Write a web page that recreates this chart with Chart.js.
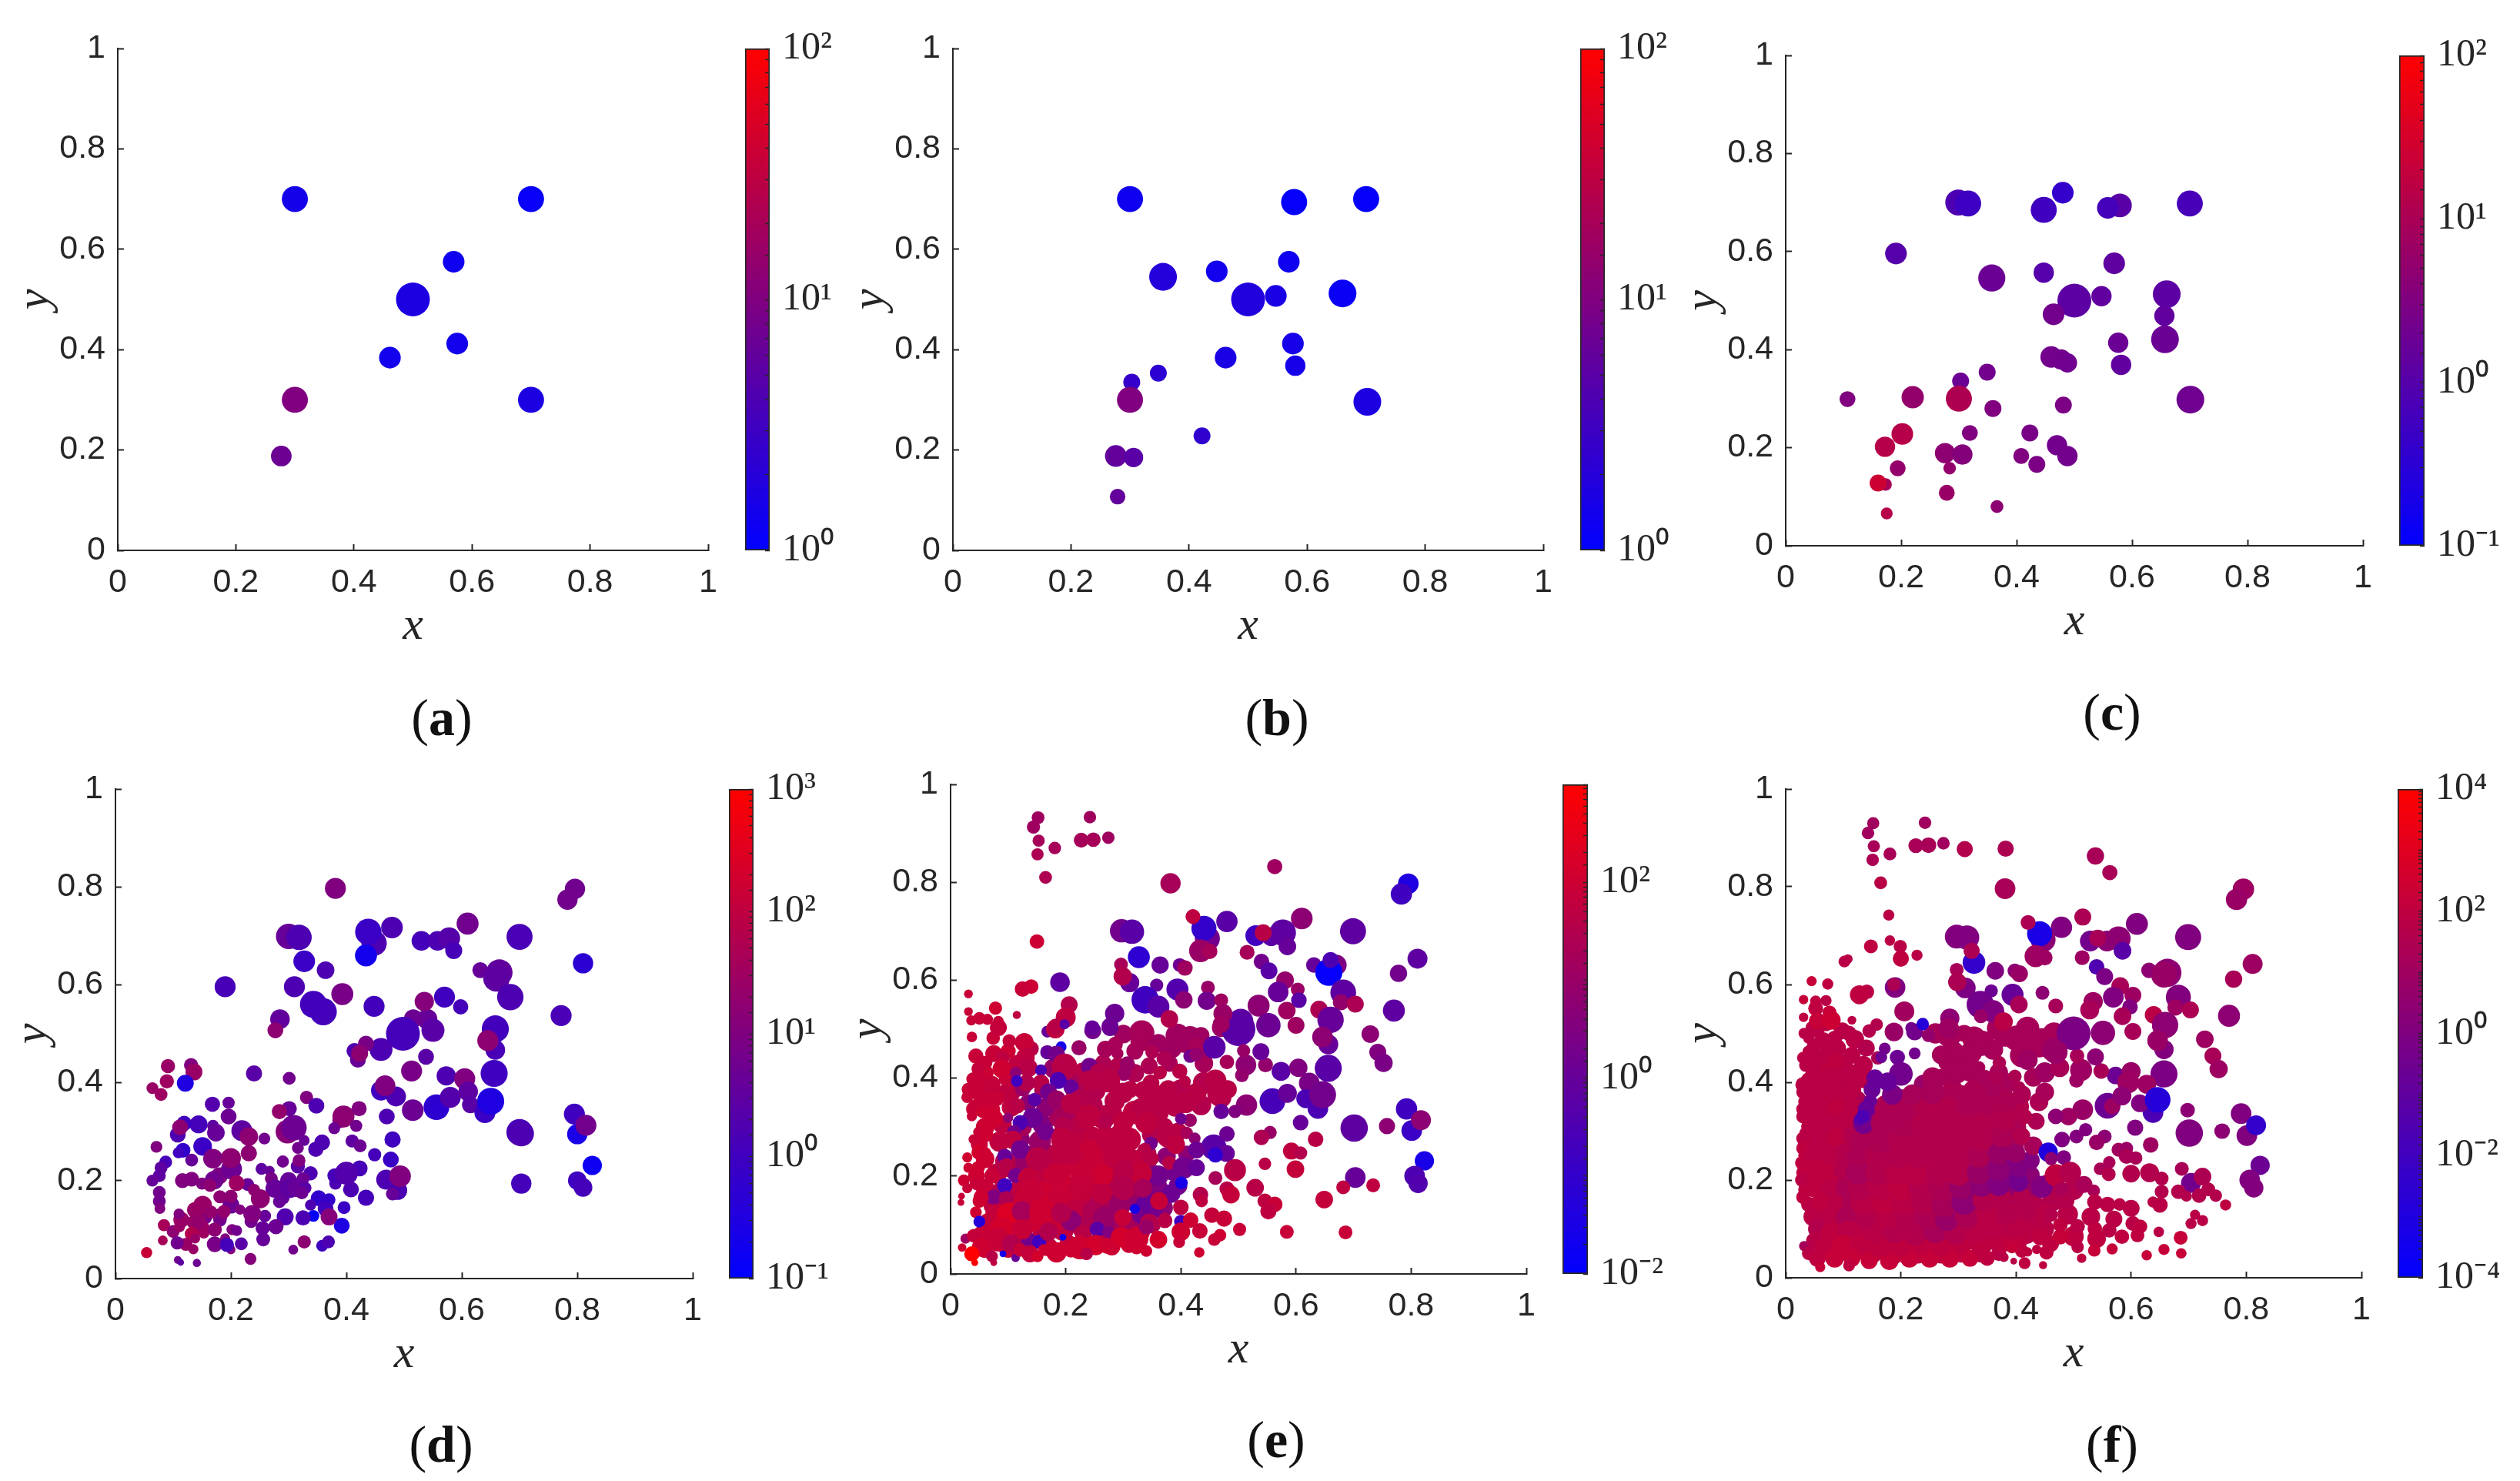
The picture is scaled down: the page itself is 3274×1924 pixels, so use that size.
<!DOCTYPE html>
<html>
<head>
<meta charset="utf-8">
<title>Scatter panels</title>
<script src="https://cdn.jsdelivr.net/npm/chart.js@4/dist/chart.umd.min.js"></script>
<style>
    html, body { margin: 0; background: #FFFFFF; }
    #page { position: relative; width: 3274px; height: 1924px; overflow: hidden; }
    canvas { position: absolute; }
    .caption {
        position: absolute; transform: translate(-50%, -50%);
        font-family: "Liberation Serif", serif; font-size: 68px; color: #111111;
    }
</style>
</head>
<body>
<div id="page"></div>
<script>
// every point is [x, y, weight, value]; weight 1 is the biggest dot, value is read on the colour bar
const pointsA = [
    [.30,.70,.77,1.45],[.70,.70,.77,1.15],[.569,.575,.64,1.3],[.50,.50,1,1.7],[.575,.412,.64,1.4],
    [.461,.384,.64,1.4],[.30,.30,.77,10],[.70,.30,.77,1.7],[.277,.188,.61,7]
];
const pointsB = [
    [.30,.70,.77,1.3],[.578,.694,.77,1.1],[.70,.70,.77,1.1],[.569,.575,.64,1.3],[.447,.556,.64,1.4],
    [.356,.545,.82,1.9],[.50,.50,1,1.8],[.547,.507,.64,1.6],[.66,.512,.82,1.2],[.576,.412,.64,1.5],
    [.58,.368,.6,1.5],[.462,.384,.64,1.6],[.348,.353,.5,2.2],[.303,.335,.5,2.6],[.30,.30,.77,10],
    [.702,.296,.82,1.7],[.422,.228,.5,2.4],[.276,.188,.64,6],[.306,.185,.57,5],[.279,.107,.46,6]
];
const pointsC = [
    [.299,.70,.77,.8],[.316,.698,.77,.52],[.48,.72,.64,.4],[.447,.685,.77,.56],[.579,.694,.7,1.1],
    [.558,.689,.64,.65],[.70,.698,.77,.69],[.191,.596,.64,1],[.569,.576,.64,1.3],[.447,.557,.6,1],
    [.357,.546,.8,1.8],[.50,.50,1,1.2],[.547,.509,.6,1.4],[.66,.513,.82,1.2],[.656,.469,.6,1.4],
    [.464,.472,.64,2.2],[.657,.421,.82,1.8],[.576,.414,.6,1.8],[.581,.369,.6,1.4],[.46,.385,.64,2.2],
    [.477,.38,.6,2.2],[.488,.373,.57,2],[.349,.354,.5,2.2],[.303,.336,.5,1.8],[.107,.299,.47,3.2],
    [.22,.303,.66,5.5],[.30,.30,.77,11],[.701,.298,.82,2],[.359,.28,.5,3.2],[.481,.287,.5,2.8],
    [.202,.228,.64,14],[.172,.202,.6,14],[.319,.23,.47,3.2],[.423,.23,.5,2.6],[.47,.205,.6,2.2],
    [.276,.189,.6,4.5],[.306,.186,.6,3.6],[.408,.183,.47,3.2],[.488,.183,.6,2.2],[.435,.166,.5,2.8],
    [.194,.158,.47,5.5],[.284,.158,.37,5.5],[.173,.125,.37,9],[.16,.128,.5,25],[.279,.108,.47,6.3],
    [.175,.066,.35,14],[.366,.08,.38,4.5]
];
const pointsD = [
    [.381,.797,.62,10],[.796,.796,.6,6],[.783,.774,.6,6.3],[.61,.725,.65,6],[.479,.717,.64,1.6],
    [.448,.685,.75,1.6],[.438,.708,.78,.8],[.434,.66,.65,.2],[.30,.699,.75,4],[.318,.697,.75,1.6],
    [.53,.69,.58,1.2],[.558,.69,.58,1.6],[.578,.695,.65,2.2],[.586,.67,.5,1.3],[.70,.698,.77,1.4],
    [.81,.644,.6,.5],[.327,.648,.64,.8],[.364,.63,.52,1.6],[.632,.63,.47,4],[.665,.625,.78,3.5],
    [.66,.613,.78,3],[.684,.575,.78,1.6],[.19,.596,.62,1.3],[.31,.596,.62,1.6],[.393,.581,.65,8],
    [.448,.556,.62,1.1],[.36,.545,.8,1.2],[.343,.56,.8,1.1],[.57,.575,.62,1],[.54,.53,.6,4],
    [.535,.566,.57,12],[.598,.555,.45,1.2],[.772,.537,.62,1.4],[.285,.53,.58,3.5],[.277,.507,.47,16],
    [.516,.531,.55,5],[.55,.507,.68,2.5],[.658,.51,.8,1.1],[.658,.467,.58,1.4],[.645,.486,.62,16],
    [.498,.5,1,1.2],[.414,.465,.47,1.8],[.42,.447,.47,4],[.46,.468,.68,1.6],[.434,.48,.47,8],
    [.423,.46,.5,16],[.538,.453,.47,2.5],[.513,.424,.62,8],[.656,.419,.8,1],[.573,.414,.57,1.6],
    [.605,.408,.62,10],[.24,.419,.48,2.5],[.301,.409,.38,6],[.091,.434,.42,25],[.131,.436,.42,10],
    [.136,.422,.5,25],[.089,.403,.42,30],[.121,.399,.5,.3],[.064,.389,.35,25],[.079,.376,.38,30],
    [.168,.356,.45,2],[.196,.359,.36,4],[.331,.37,.39,10],[.348,.353,.47,1.6],[.196,.331,.47,5],
    [.301,.347,.45,4],[.284,.341,.45,20],[.298,.3,.7,13],[.309,.308,.76,5.2],[.389,.323,.45,6],
    [.395,.331,.65,16],[.422,.347,.45,10],[.417,.312,.36,6],[.379,.307,.35,5],[.47,.331,.47,1.6],
    [.515,.344,.64,5],[.46,.384,.59,1],[.486,.372,.59,1.6],[.467,.394,.61,10],[.556,.35,.76,.5],
    [.58,.37,.62,2],[.611,.382,.58,3],[.615,.355,.5,2.5],[.64,.339,.62,.8],[.65,.362,.8,.3],
    [.795,.336,.62,1],[.80,.295,.6,.25],[.815,.313,.62,6.3],[.70,.299,.78,1.4],[.703,.296,.75,1.6],
    [.826,.231,.57,.16],[.80,.2,.55,1],[.81,.186,.55,1.2],[.703,.194,.6,1.2],
    [.181,.12,.4,5],[.2,.15,.5,5],[.29,.165,.4,4],[.3,.2,.5,4],[.155,.125,.42,6],[.135,.115,.4,25],[.15,.105,.42,30],[.18,.21,.5,10],
    [.144,.315,.53,1.2],[.119,.317,.45,1],[.108,.294,.47,1.6],[.112,.309,.47,16],[.169,.312,.35,3],
    [.174,.298,.52,4],[.219,.302,.62,3],[.231,.29,.55,16],[.258,.286,.35,6],[.071,.269,.35,10],
    [.151,.27,.55,.8],[.117,.262,.44,.6],[.109,.257,.33,1],[.132,.242,.38,4],[.169,.245,.58,10],
    [.201,.224,.62,5],[.2,.246,.59,16],[.231,.256,.48,16],[.087,.238,.38,1.3],[.079,.226,.38,3],
    [.076,.21,.38,3],[.064,.2,.35,4],[.116,.2,.44,10],[.132,.203,.44,10],[.171,.201,.55,6],
    [.15,.194,.36,10],[.164,.19,.38,16],[.229,.192,.38,4],[.21,.195,.47,30],[.253,.224,.35,3],
    [.267,.22,.3,4],[.27,.204,.38,8],[.29,.239,.36,6],[.316,.229,.42,2.5],[.318,.241,.38,10],
    [.338,.215,.42,1.6],[.325,.204,.38,5],[.276,.184,.55,4],[.302,.184,.56,3],[.315,.186,.56,4],
    [.329,.185,.36,2.5],[.323,.175,.38,5],[.284,.157,.38,4],[.24,.181,.36,16],[.251,.163,.56,16],
    [.181,.167,.39,16],[.2,.168,.39,16],[.352,.164,.47,.6],[.37,.161,.38,.6],[.338,.15,.33,1.6],
    [.364,.143,.47,1],[.396,.145,.38,.8],[.434,.165,.48,1.2],[.408,.182,.47,1.6],[.381,.194,.36,1.6],
    [.38,.21,.44,1.3],[.423,.225,.47,1.3],[.4,.215,.68,2],[.41,.281,.39,3],[.424,.271,.38,5],
    [.347,.264,.45,1.6],[.358,.278,.47,1.6],[.327,.282,.32,4],[.316,.267,.35,6],[.48,.284,.48,1],
    [.449,.253,.39,1.2],[.477,.243,.47,.8],[.469,.202,.59,1.6],[.489,.18,.56,1.6],[.48,.173,.39,4],
    [.493,.209,.64,10],[.392,.108,.47,.3],[.37,.126,.5,12],[.343,.128,.35,.13],[.294,.126,.5,1.8],
    [.325,.124,.45,1.6],[.278,.106,.45,5],[.255,.103,.42,4],[.259,.128,.36,4],[.235,.117,.39,6],
    [.237,.132,.53,10],[.216,.141,.3,10],[.181,.128,.45,8],[.188,.137,.39,20],[.151,.15,.55,25],
    [.138,.14,.48,25],[.165,.136,.39,20],[.114,.12,.47,25],[.11,.132,.32,10],[.145,.116,.47,20],
    [.084,.109,.36,40],[.1,.096,.38,16],[.111,.106,.33,25],[.153,.093,.33,30],[.172,.1,.42,16],
    [.132,.091,.41,63],[.202,.1,.33,10],[.21,.098,.32,6],[.082,.078,.29,40],[.122,.07,.39,25],
    [.107,.073,.39,6],[.138,.082,.3,25],[.135,.06,.3,25],[.172,.07,.47,8],[.19,.082,.3,10],
    [.2,.059,.27,10],[.193,.069,.42,1.2],[.218,.071,.38,2.5],[.256,.08,.41,4],[.327,.075,.39,16],
    [.308,.059,.29,6],[.358,.067,.35,1],[.369,.075,.38,1.6],[.054,.053,.33,130],[.108,.038,.23,6],
    [.113,.033,.2,3],[.141,.032,.24,5],[.234,.04,.35,12],[.076,.176,.38,6],[.076,.158,.38,6],
    [.077,.143,.32,10]
];
const fillE = [
    [.06,.05,.5,80],[.1,.052,.55,80],[.135,.05,.55,56],[.17,.055,.55,80],[.205,.06,.55,80],[.24,.062,.55,80],[.28,.055,.5,100],[.31,.06,.5,100],
    [.055,.08,.55,100],[.09,.075,.6,100],[.125,.08,.6,100],[.16,.085,.6,56],[.195,.09,.65,56],[.23,.095,.65,32],[.265,.085,.6,32],[.3,.095,.6,56],[.33,.085,.55,80],
    [.065,.105,.55,80],[.105,.105,.65,130],[.14,.11,.7,100],[.175,.105,.7,80],[.21,.115,.7,40],[.245,.11,.7,25],[.28,.11,.65,18],[.315,.105,.6,18],[.35,.1,.5,32],
    [.075,.14,.6,56],[.11,.145,.7,100],[.15,.145,.75,100],[.19,.14,.7,80],[.225,.145,.7,56],[.26,.14,.7,25],[.295,.145,.7,10],[.33,.15,.65,5.6],[.37,.135,.55,5.6],
    [.06,.175,.55,80],[.09,.17,.6,32],[.125,.175,.7,56],[.16,.18,.75,100],[.2,.175,.75,100],[.24,.18,.75,56],[.28,.185,.7,32],[.32,.175,.65,10],[.36,.175,.6,3.2],[.395,.18,.55,1.8],
    [.045,.2,.5,100],[.08,.205,.6,56],[.115,.21,.65,10],[.15,.21,.7,56],[.19,.215,.75,80],[.23,.22,.75,80],[.27,.22,.75,56],[.31,.21,.7,32],[.345,.205,.65,5.6],[.385,.21,.55,1.8],
    [.06,.235,.55,100],[.095,.23,.6,32],[.13,.24,.65,10],[.17,.24,.7,40],[.21,.25,.75,56],[.255,.245,.75,80],[.3,.25,.7,56],[.34,.245,.6,32],[.375,.24,.55,5.6],[.41,.245,.5,5.6],
    [.05,.265,.5,100],[.085,.27,.6,56],[.12,.275,.6,5.6],[.155,.27,.65,10],[.195,.28,.7,32],[.23,.285,.7,56],[.27,.275,.75,56],[.31,.275,.7,56],[.35,.285,.6,32],[.395,.29,.55,40],
    [.06,.3,.55,100],[.09,.305,.55,56],[.125,.3,.55,18],[.16,.305,.6,3.2],[.19,.32,.65,18],[.225,.31,.7,40],[.265,.32,.7,56],[.32,.33,.7,56],[.36,.33,.65,40],[.39,.34,.55,40],
    [.045,.34,.5,100],[.07,.335,.55,100],[.105,.34,.55,56],[.135,.35,.5,5.6],[.165,.34,.55,5.6],[.2,.33,.55,18],[.245,.345,.65,32],[.28,.33,.6,40],[.33,.34,.55,40],[.375,.35,.6,40],[.435,.345,.6,32],[.47,.36,.6,32],
    [.05,.37,.5,100],[.075,.37,.55,80],[.105,.37,.55,32],[.125,.38,.5,10],[.16,.375,.5,18],[.215,.38,.6,18],[.25,.375,.65,32],[.3,.37,.6,40],[.335,.375,.55,40],[.36,.365,.6,40],[.4,.375,.65,32],[.44,.39,.65,32],
    [.06,.41,.5,100],[.1,.4,.55,80],[.115,.43,.5,56],[.18,.42,.6,10],[.21,.405,.6,18],[.265,.43,.5,25],[.32,.41,.55,25],[.345,.425,.5,25],[.38,.43,.5,18],[.44,.43,.55,18],[.445,.46,.6,13],[.385,.46,.55,13],[.33,.475,.6,18],[.3,.49,.55,13],[.1,.455,.45,100],[.14,.46,.45,40]
];
const cloudE = [
    [.037,.484,.31,80],[.074,.482,.4,80],[.083,.503,.5,70],[.102,.476,.4,70],[.128,.473,.55,80],
    [.168,.495,.35,1],[.182,.5,.55,56],[.192,.464,.32,.025],[.223,.462,.45,10],[.168,.453,.42,1],
    [.184,.449,.5,1.8],[.269,.459,.5,18],[.286,.469,.45,18],[.29,.45,.35,18],[.247,.497,.5,1.8],
    [.277,.503,.5,1],[.332,.492,.75,18],[.361,.471,.55,13],[.32,.455,.5,18],[.35,.453,.4,25],
    [.371,.44,.45,25],[.394,.487,.7,13],[.416,.484,.65,13],[.435,.487,.5,13],[.405,.469,.5,13],
    [.427,.463,.55,18],[.416,.445,.4,1.8],[.427,.448,.4,8],[.47,.503,.55,10],
    [.044,.445,.45,80],[.075,.45,.5,80],[.091,.442,.4,56],[.061,.432,.4,80],[.048,.419,.4,70],
    [.089,.419,.55,110],[.13,.442,.55,56],[.135,.421,.55,40],[.157,.416,.35,.32],[.113,.411,.35,5.6],
    [.198,.424,.75,40],[.228,.416,.45,40],[.241,.424,.5,1.8],[.258,.411,.55,32],[.29,.424,.5,32],
    [.307,.429,.45,10],[.301,.408,.4,10],[.364,.411,.4,40],[.398,.414,.45,40],[.407,.393,.35,40],
    [.274,.395,.7,40],[.241,.395,.6,40],[.209,.382,.45,1],[.187,.395,.5,.32],[.157,.39,.5,40],
    [.132,.39,.5,32],[.115,.394,.35,.18],[.039,.398,.4,80],[.053,.385,.6,80],[.072,.387,.5,70],
    [.097,.369,.55,56],[.031,.377,.4,80],[.029,.361,.35,80],[.056,.358,.55,80],[.08,.358,.45,80],
    [.146,.356,.4,.56],[.17,.372,.5,1.8],[.184,.356,.55,10],[.312,.377,.5,40],[.348,.39,.5,40],
    [.378,.377,.55,40],[.427,.369,.6,40],[.481,.377,.55,40],[.46,.395,.65,40],[.465,.366,.65,40],
    [.408,.351,.65,40],[.345,.353,.6,40],[.285,.353,.6,40],[.225,.358,.55,32],[.209,.348,.6,40],
    [.116,.343,.45,40],[.04,.337,.45,80],[.056,.332,.4,110],[.1,.319,.3,5.6],[.075,.317,.55,110],
    [.143,.319,.6,1.3],[.121,.309,.45,.32],[.037,.322,.3,80],[.239,.322,.7,56],[.195,.303,.5,32],
    [.3,.311,.6,56],[.34,.309,.65,56],[.372,.301,.5,40],[.416,.314,.4,10],[.4,.317,.35,1.8],
    [.269,.311,.45,32],[.165,.29,.5,1.8],[.11,.29,.4,1.8],[.048,.29,.3,80],[.061,.285,.45,110],
    [.04,.275,.3,80],[.108,.274,.55,56],[.195,.274,.7,56],[.247,.28,.6,56],[.296,.288,.6,56],
    [.348,.267,.4,1.8],[.378,.28,.65,40],[.41,.288,.37,18],[.424,.277,.35,5.6],[.457,.259,.75,.56],
    [.479,.246,.5,1],[.46,.243,.45,.08],[.427,.253,.5,1.3],[.337,.254,.4,40],[.391,.264,.55,56],
    [.048,.248,.4,140],[.059,.246,.4,110],[.029,.238,.3,110],[.094,.24,.45,1],[.121,.254,.55,1.8],
    [.151,.235,.7,40],[.192,.243,.6,56],[.241,.254,.6,80],[.285,.243,.7,56],[.318,.233,.6,56],
    [.35,.235,.4,40],[.38,.227,.42,40],[.405,.217,.65,1.8],[.427,.217,.5,1],[.361,.201,.6,1.8],
    [.329,.206,.7,70],[.301,.212,.6,40],[.263,.201,.65,110],[.23,.196,.75,80],[.181,.201,.7,80],
    [.097,.217,.55,40],[.048,.217,.4,110],[.031,.217,.3,110],[.072,.201,.45,80],[.113,.201,.45,1.8],
    [.135,.196,.6,70],[.023,.191,.35,110],[.045,.185,.4,80],[.094,.18,.45,.18],[.075,.157,.45,3.2],
    [.053,.157,.45,110],[.029,.175,.3,80],[.019,.159,.2,80],[.018,.146,.2,80],[.097,.154,.45,25],
    [.138,.164,.8,80],[.187,.154,.65,80],[.225,.175,.7,70],[.263,.164,.6,56],[.301,.175,.7,32],
    [.34,.143,.6,1],[.334,.175,.55,18],[.383,.164,.55,1.3],[.05,.149,.4,110],[.044,.126,.35,110],
    [.05,.107,.35,.056],[.078,.122,.6,70],[.102,.12,.75,200],[.124,.128,.6,18],[.16,.128,.8,110],
    [.209,.109,.6,5.6],[.192,.125,.6,32],[.247,.128,.6,25],[.269,.112,.75,10],[.299,.115,.5,80],
    [.329,.118,.45,1.8],[.356,.128,.4,1.8],[.32,.133,.3,.03],[.372,.109,.45,40],[.4,.107,.4,.18],
    [.345,.104,.55,32],[.061,.086,.4,80],[.026,.072,.3,13],[.04,.078,.4,70],[.089,.091,.7,140],
    [.135,.07,.45,1.8],[.154,.066,.42,.18],[.124,.091,.6,80],[.17,.086,.55,32],[.195,.075,.2,.018],
    [.23,.083,.5,40],[.255,.091,.45,.56],[.274,.086,.35,3.2],[.296,.075,.6,140],[.323,.072,.7,110],
    [.34,.096,.45,10],[.225,.054,.7,110],[.252,.059,.6,140],[.271,.057,.45,110],[.236,.041,.38,40],
    [.323,.054,.4,110],[.083,.07,.7,80],[.053,.054,.55,110],[.037,.041,.45,1000],[.02,.054,.25,110],
    [.042,.023,.2,800],[.075,.023,.2,56],[.072,.036,.35,40],[.105,.062,.55,32],[.091,.041,.2,.025],
    [.113,.033,.25,1],[.121,.049,.4,80],[.138,.041,.5,70],[.151,.036,.35,140],[.184,.044,.6,110],
    [.162,.049,.35,110],[.209,.049,.45,110]
];
const sparseE = [
    [.152,.932,.38,13],[.144,.913,.39,13],[.242,.933,.37,13],[.153,.885,.36,18],[.181,.87,.37,18],
    [.227,.886,.44,18],[.248,.887,.43,18],[.274,.891,.37,13],[.151,.857,.36,25],[.165,.81,.38,25],
    [.563,.832,.45,13],[.382,.798,.6,18],[.795,.797,.61,.04],[.783,.776,.63,.18],[.61,.726,.64,5.6],
    [.446,.685,.74,1.8],[.44,.706,.74,.1],[.421,.73,.44,56],[.48,.72,.63,.56],[.434,.66,.67,10],
    [.45,.659,.46,18],[.15,.679,.43,100],[.297,.701,.69,1.8],[.315,.699,.72,.56],[.53,.691,.61,.18],
    [.557,.689,.56,.56],[.577,.697,.78,.7],[.543,.697,.5,40],[.585,.669,.52,1],[.699,.7,.77,.7],
    [.515,.657,.44,18],[.327,.647,.65,.08],[.364,.631,.51,1],[.398,.631,.41,1.3],[.407,.625,.46,13],
    [.311,.595,.57,1],[.296,.632,.41,18],[.299,.608,.54,32],[.54,.638,.46,1.8],[.553,.619,.5,.56],
    [.631,.631,.46,1],[.67,.631,.61,3],[.657,.616,.8,.012],[.66,.641,.48,.32],[.811,.644,.59,.7],
    [.778,.614,.51,1.8],[.19,.596,.58,.7],[.14,.587,.43,100],[.125,.582,.46,80],[.358,.59,.39,1],
    [.394,.581,.65,.4],[.405,.56,.52,5.6],[.447,.585,.41,10],[.581,.6,.52,8],[.603,.581,.41,10],
    [.569,.576,.61,1],[.338,.56,.81,.18],[.361,.546,.65,.56],[.445,.558,.54,1.8],[.47,.559,.41,13],
    [.682,.575,.76,.7],[.678,.555,.48,8],[.703,.551,.5,25],[.584,.538,.52,13],[.605,.559,.46,.56],
    [.64,.54,.52,25],[.77,.538,.65,.7],[.535,.548,.65,5.6],[.66,.519,.78,1],[.206,.55,.5,32],
    [.2,.524,.59,56],[.183,.505,.48,40],[.198,.51,.3,.56],[.078,.543,.39,110],[.031,.572,.26,80],
    [.031,.536,.26,80],[.115,.529,.24,56],[.05,.522,.37,80],[.036,.518,.3,80],[.064,.52,.33,80],
    [.083,.516,.32,70],[.285,.532,.57,1.3],[.277,.506,.5,1.3],[.246,.503,.44,1],[.38,.521,.52,32],
    [.504,.516,.74,.7],[.5,.5,1,.56],[.473,.532,.56,10],[.47,.51,.5,13],[.552,.508,.72,1.3],
    [.6,.508,.5,13],[.729,.49,.52,5.6],[.742,.453,.5,3.2],[.752,.431,.54,2.5],[.656,.42,.8,.56],
    [.574,.414,.56,.56],[.604,.421,.54,3.2],[.623,.39,.61,2.5],[.547,.427,.44,8],[.513,.427,.61,5.6],
    [.506,.406,.41,8],[.509,.456,.39,10],[.539,.454,.5,1],[.48,.433,.43,18],[.656,.469,.59,1],
    [.646,.484,.61,5.6],[.458,.463,.67,.56],[.559,.353,.76,.25],[.585,.369,.56,1],[.617,.358,.56,.3],
    [.638,.338,.61,.3],[.646,.366,.8,1.8],[.514,.345,.63,5.6],[.47,.332,.46,1],[.494,.332,.39,3.2],
    [.608,.309,.46,1],[.48,.286,.46,1.3],[.701,.298,.81,.7],[.758,.302,.48,5.6],[.792,.337,.63,.18],
    [.801,.293,.61,.14],[.817,.314,.59,5.6],[.634,.275,.46,40],[.555,.289,.39,10],[.54,.279,.46,25],
    [.592,.251,.5,56],[.608,.247,.39,32],[.823,.231,.57,.03],[.546,.225,.37,40],[.599,.214,.52,70],
    [.703,.197,.61,1],[.806,.2,.61,.32],[.812,.185,.57,.4],[.682,.177,.41,56],[.734,.181,.41,56],
    [.529,.176,.52,40],[.494,.212,.65,40],[.48,.174,.44,40],[.487,.162,.52,70],[.46,.196,.41,18],
    [.649,.152,.52,70],[.546,.149,.44,56],[.563,.142,.46,80],[.552,.128,.48,56],[.434,.162,.46,32],
    [.436,.149,.37,56],[.401,.186,.37,.03],[.4,.136,.46,56],[.362,.149,.52,80],[.454,.12,.46,70],
    [.475,.113,.48,80],[.417,.11,.46,110],[.502,.091,.39,80],[.433,.088,.46,80],[.468,.079,.37,110],
    [.458,.07,.37,80],[.584,.086,.41,80],[.686,.085,.41,80],[.432,.044,.31,110],[.4,.086,.55,110],
    [.397,.065,.35,80],[.361,.07,.52,140],[.34,.047,.35,110]
];
const fillF = [
    [.032,.5,.33,63],[.055,.505,.42,63],[.085,.49,.45,63],[.11,.5,.45,40],[.05,.475,.45,63],[.075,.46,.5,63],[.1,.44,.5,63],[.03,.45,.35,63],
    [.047,.44,.45,63],[.068,.425,.5,100],[.095,.41,.55,63],[.12,.4,.5,40],[.04,.405,.45,63],[.03,.38,.4,63],[.07,.395,.5,63],[.045,.365,.5,63],
    [.075,.365,.55,100],[.1,.365,.55,63],[.125,.365,.5,25],[.03,.345,.4,63],[.05,.335,.5,63],[.075,.335,.55,63],[.1,.33,.55,63],[.12,.325,.5,40],
    [.04,.31,.45,63],[.065,.305,.55,63],[.095,.3,.55,100],[.12,.3,.5,25],[.03,.285,.4,63],[.05,.275,.5,100],[.075,.27,.55,63],[.1,.265,.55,40],
    [.125,.27,.55,25],[.035,.25,.45,100],[.06,.24,.55,100],[.09,.235,.55,63],[.115,.235,.55,16],[.03,.215,.4,100],[.06,.205,.55,100],[.09,.2,.55,63],
    [.115,.205,.55,6.3],[.035,.18,.45,100],[.065,.17,.55,100],[.095,.165,.55,40],[.12,.175,.5,2.5],[.04,.15,.45,63],[.075,.14,.55,63],[.1,.135,.55,16],
    [.125,.145,.55,16],[.06,.125,.45,16],[.09,.11,.55,40],[.12,.11,.55,25],[.065,.095,.45,25],[.06,.07,.5,63],[.09,.065,.55,100],[.12,.05,.5,100],
    [.15,.05,.6,100],[.19,.05,.6,100],[.23,.05,.6,100],[.27,.05,.6,100],[.305,.05,.55,100],[.34,.05,.55,100],[.37,.05,.45,63],[.41,.055,.4,100],
    [.15,.08,.65,63],[.185,.08,.7,40],[.215,.08,.65,25],[.25,.08,.7,25],[.285,.08,.7,25],[.32,.08,.65,40],[.355,.08,.65,63],[.39,.085,.55,63],[.42,.085,.45,63],
    [.135,.105,.65,63],[.17,.11,.7,63],[.205,.11,.75,40],[.24,.11,.7,16],[.27,.11,.7,9],[.305,.11,.7,16],[.34,.11,.7,40],[.375,.115,.65,40],[.41,.115,.55,63],[.44,.12,.45,63],
    [.155,.14,.75,63],[.19,.14,.75,63],[.225,.14,.75,40],[.26,.14,.75,16],[.295,.135,.7,6.3],[.33,.14,.7,6.3],[.365,.145,.7,25],[.4,.15,.6,40],[.435,.15,.5,40],
    [.145,.17,.75,40],[.18,.17,.75,63],[.215,.17,.75,63],[.255,.17,.75,25],[.29,.17,.75,9],[.325,.17,.75,4],[.36,.175,.7,2.5],[.39,.175,.6,2.5],[.425,.18,.5,6.3],
    [.14,.2,.7,25],[.175,.2,.75,40],[.215,.2,.75,63],[.25,.2,.75,40],[.285,.2,.75,25],[.32,.2,.75,6.3],[.355,.205,.75,1.2],[.39,.21,.7,.7],[.425,.21,.55,2.5],
    [.145,.235,.7,25],[.18,.23,.75,40],[.215,.235,.75,63],[.25,.23,.75,63],[.285,.235,.75,40],[.32,.235,.75,25],[.355,.24,.7,4],[.39,.24,.65,1.2],[.425,.24,.55,1],
    [.15,.265,.7,25],[.185,.265,.75,40],[.22,.27,.75,40],[.255,.265,.75,63],[.29,.27,.75,40],[.325,.27,.75,40],[.36,.27,.7,25],[.395,.275,.65,16],[.43,.27,.55,16],
    [.155,.3,.7,16],[.19,.3,.75,25],[.225,.3,.75,40],[.26,.3,.75,40],[.295,.305,.75,40],[.33,.3,.75,40],[.365,.305,.7,40],[.4,.31,.6,25],[.435,.32,.5,25],
    [.16,.335,.65,6.3],[.195,.335,.7,16],[.23,.335,.75,25],[.265,.335,.75,40],[.3,.335,.75,25],[.335,.34,.75,25],[.37,.34,.7,25],[.405,.35,.6,40],[.44,.36,.55,25],
    [.2,.365,.6,6.3],[.235,.365,.65,25],[.27,.365,.7,25],[.305,.37,.7,25],[.34,.37,.7,25],[.375,.375,.65,25],[.41,.375,.55,25],[.45,.38,.55,16],
    [.27,.41,.5,16],[.24,.395,.6,6.3],[.32,.42,.55,16],[.28,.44,.5,16],[.335,.43,.4,16],[.43,.41,.55,16],[.45,.42,.6,9],[.31,.5,.5,16],[.38,.49,.5,16],[.445,.49,.6,16],
    [.29,.46,.7,16],[.34,.48,.75,16],[.37,.42,.55,16],[.255,.41,.6,16],[.345,.405,.6,16],[.39,.4,.55,16],[.41,.455,.7,16],[.44,.475,.7,16],[.26,.5,.6,16],[.315,.44,.6,16],[.37,.51,.7,16],[.42,.51,.7,16],
    [.46,.19,.7,25],[.465,.16,.65,40],[.5,.18,.6,40],[.45,.13,.6,63],[.49,.13,.6,63],[.53,.125,.55,63],[.57,.12,.5,63],[.45,.1,.55,63],[.5,.085,.6,100],[.54,.08,.55,100],[.425,.15,.55,40],[.46,.07,.5,100],[.415,.03,.35,100]
];
const cloudF = [
    [.045,.512,.36,63],[.07,.52,.45,63],[.098,.505,.5,63],[.12,.488,.55,63],[.145,.505,.4,40],
    [.04,.49,.33,63],[.065,.485,.5,63],[.09,.47,.5,63],[.04,.462,.38,63],[.06,.45,.5,63],
    [.085,.44,.55,100],[.115,.455,.5,63],[.14,.47,.5,40],[.16,.45,.4,25],[.135,.435,.55,63],
    [.035,.435,.4,63],[.05,.415,.55,63],[.08,.41,.6,63],[.11,.42,.55,63],[.135,.405,.5,63],
    [.03,.395,.45,63],[.055,.38,.6,63],[.085,.38,.6,63],[.115,.385,.55,63],[.035,.36,.45,63],
    [.06,.35,.55,63],[.09,.345,.6,100],[.115,.35,.55,63],[.03,.33,.4,63],[.05,.32,.55,63],
    [.08,.315,.6,63],[.105,.32,.55,63],[.035,.295,.4,63],[.06,.285,.6,63],[.09,.285,.6,100],
    [.115,.29,.55,40],[.03,.265,.4,100],[.05,.255,.55,63],[.08,.25,.6,63],[.105,.255,.6,40],
    [.028,.235,.4,100],[.045,.22,.6,100],[.075,.215,.6,100],[.1,.22,.6,40],[.028,.2,.4,63],
    [.05,.185,.6,100],[.08,.18,.6,63],[.105,.185,.6,25],[.03,.165,.4,100],[.06,.15,.6,100],
    [.09,.15,.6,63],[.115,.16,.6,25],[.047,.125,.55,63],[.075,.12,.6,63],[.105,.125,.6,25],
    [.055,.1,.55,40],[.08,.09,.65,100],[.11,.095,.65,63],[.05,.075,.5,63],[.07,.06,.6,100],
    [.1,.065,.65,160],[.13,.07,.6,100],[.032,.065,.3,16],[.04,.05,.4,63],[.055,.04,.5,100],
    [.085,.04,.55,160],[.115,.04,.5,160],[.06,.022,.3,160],[.11,.025,.35,100],[.145,.035,.5,160],
    [.18,.035,.55,160],[.215,.04,.55,160],[.25,.04,.55,160],[.285,.04,.55,160],[.32,.04,.5,160],
    [.35,.04,.45,100],[.165,.065,.65,100],[.2,.065,.65,100],[.235,.07,.65,100],[.27,.065,.65,100],
    [.305,.07,.6,100],[.34,.065,.6,100],[.375,.07,.55,100],[.405,.075,.5,100],[.155,.095,.7,63],
    [.19,.095,.7,40],[.225,.09,.7,40],[.26,.095,.7,16],[.295,.09,.65,40],[.33,.095,.65,63],
    [.365,.1,.6,63],[.4,.1,.55,63],[.43,.105,.5,63],[.14,.125,.7,40],[.175,.125,.7,63],
    [.21,.125,.7,40],[.245,.125,.75,25],[.28,.12,.7,6.3],[.315,.125,.7,25],[.35,.13,.65,63],
    [.385,.13,.6,40],[.42,.135,.55,40],[.135,.155,.75,63],[.17,.155,.75,100],[.205,.155,.75,63],
    [.24,.155,.75,40],[.275,.15,.75,16],[.31,.155,.75,2.5],[.345,.16,.7,40],[.375,.16,.65,40],
    [.41,.165,.55,40],[.13,.185,.75,40],[.165,.185,.75,63],[.2,.185,.75,100],[.235,.185,.75,40],
    [.27,.185,.75,25],[.305,.185,.7,6.3],[.34,.19,.7,2.5],[.37,.19,.65,1],[.405,.195,.55,.4],
    [.125,.215,.7,16],[.16,.215,.75,40],[.195,.215,.75,63],[.23,.215,.75,63],[.265,.215,.75,40],
    [.3,.215,.75,40],[.335,.215,.7,6.3],[.37,.22,.65,2.5],[.405,.225,.55,1],[.125,.25,.65,25],
    [.16,.245,.75,40],[.195,.25,.75,40],[.23,.25,.75,40],[.265,.25,.75,40],[.3,.25,.75,40],
    [.335,.25,.7,25],[.37,.255,.65,6.3],[.4,.255,.55,6.3],[.13,.28,.65,25],[.165,.28,.75,25],
    [.2,.28,.75,40],[.235,.285,.75,40],[.27,.285,.75,40],[.305,.285,.75,40],[.34,.285,.7,40],
    [.375,.29,.65,25],[.41,.29,.5,40],[.135,.315,.6,.4],[.17,.315,.75,25],[.205,.315,.75,25],
    [.24,.315,.75,40],[.275,.32,.75,40],[.31,.32,.75,40],[.345,.32,.7,40],[.38,.325,.65,40],
    [.415,.33,.45,40],[.14,.345,.5,.16],[.175,.35,.7,25],[.21,.35,.7,25],[.245,.35,.75,40],
    [.28,.35,.75,40],[.315,.355,.7,25],[.35,.355,.7,25],[.385,.36,.6,25],[.15,.385,.5,.25],
    [.185,.375,.6,.7],[.22,.375,.6,16],[.255,.38,.7,16],[.29,.385,.6,25],[.325,.385,.55,25],
    [.36,.385,.45,16],[.128,.323,.35,.063],[.134,.33,.4,.025],[.147,.362,.4,.16],
    [.284,.498,.75,16],[.327,.49,.7,16],[.36,.467,.6,16],[.27,.456,.55,16],[.297,.422,.7,16],
    [.322,.461,.65,16],[.371,.44,.4,25],[.366,.409,.45,25],[.398,.412,.4,25],[.406,.39,.35,25],
    [.401,.49,.75,16],[.423,.472,.75,16],[.42,.446,.6,9],[.466,.498,.7,16],[.466,.467,.75,9],
    [.224,.459,.35,.4],[.194,.451,.45,.25],[.172,.469,.35,.4],[.166,.451,.35,.25],[.2,.417,.7,.4],
    [.177,.401,.55,.16],[.155,.409,.5,.16],[.155,.391,.35,.16],[.188,.503,.55,6.3],[.224,.503,.5,.4],
    [.248,.496,.4,4.5]
];
const sparseF = [
    [.152,.93,.36,11],[.143,.91,.37,11],[.242,.931,.37,11],[.153,.883,.36,18],[.181,.867,.38,18],
    [.226,.884,.44,18],[.248,.885,.46,18],[.274,.889,.37,11],[.311,.877,.48,40],[.382,.878,.48,25],
    [.151,.855,.37,25],[.538,.863,.51,18],[.563,.829,.45,18],[.165,.808,.38,63],[.381,.796,.61,18],
    [.795,.795,.63,9],[.783,.774,.63,6.3],[.179,.742,.33,63],[.516,.738,.5,25],[.61,.724,.65,1],
    [.479,.717,.63,1],[.447,.692,.74,2.5],[.441,.704,.74,.0006],[.421,.727,.44,25],[.434,.658,.65,9],
    [.45,.655,.46,9],[.297,.698,.7,1.2],[.315,.696,.72,1],[.327,.645,.67,.004],[.323,.669,.48,25],
    [.699,.697,.77,1],[.529,.689,.61,.4],[.558,.689,.61,2.5],[.578,.694,.72,2.5],[.542,.695,.5,18],
    [.585,.669,.52,.063],[.515,.655,.44,9],[.148,.678,.41,100],[.181,.69,.31,63],[.199,.678,.39,63],
    [.2,.653,.48,100],[.228,.66,.33,63],[.102,.647,.35,63],[.108,.652,.28,63],[.364,.628,.52,1],
    [.398,.628,.43,2.5],[.406,.622,.5,6.3],[.297,.63,.41,18],[.312,.593,.61,.7],[.298,.605,.54,25],
    [.54,.636,.46,.03],[.554,.616,.5,.7],[.631,.629,.46,2.5],[.663,.624,.83,2.5],[.657,.62,.76,6.3],
    [.811,.642,.59,9],[.778,.611,.51,18],[.045,.607,.3,160],[.073,.601,.33,100],[.19,.594,.61,1],
    [.188,.6,.39,25],[.141,.585,.43,63],[.128,.579,.56,100],[.357,.587,.39,.25],[.394,.579,.65,.16],
    [.405,.559,.52,18],[.446,.583,.41,2.5],[.469,.556,.44,16],[.581,.597,.52,18],[.603,.578,.5,9],
    [.569,.574,.61,1],[.534,.565,.57,9],[.528,.548,.56,18],[.598,.554,.46,1],[.639,.538,.52,63],
    [.585,.535,.52,18],[.682,.574,.74,1.2],[.677,.553,.48,9],[.703,.548,.5,25],[.77,.536,.65,2.5],
    [.659,.517,.78,2.5],[.206,.545,.59,11],[.338,.559,.81,.4],[.36,.545,.67,1],[.339,.535,.41,6.3],
    [.378,.524,.56,63],[.285,.531,.57,2.5],[.283,.51,.6,9],[.238,.519,.37,.0016],[.218,.511,.35,.4],
    [.158,.518,.37,40],[.115,.527,.26,63],[.031,.533,.28,100],[.031,.569,.28,160],[.052,.566,.33,100],
    [.07,.567,.33,63],[.052,.551,.44,100],[.076,.543,.41,160],[.055,.525,.5,160],[.079,.527,.56,250],
    [.728,.488,.52,9],[.742,.454,.5,18],[.752,.427,.54,9],[.657,.417,.8,.7],[.573,.414,.52,.25],
    [.6,.422,.56,6.3],[.627,.396,.56,9],[.548,.423,.46,18],[.513,.425,.65,9],[.505,.404,.43,9],
    [.506,.454,.43,18],[.538,.452,.5,2.5],[.476,.43,.56,18],[.603,.504,.5,18],[.657,.467,.57,1.2],
    [.646,.485,.61,6.3],[.551,.501,.72,2.5],[.5,.5,1,.7],[.469,.462,.7,6.3],[.559,.352,.76,.25],
    [.567,.351,.48,9],[.595,.4,.65,9],[.584,.372,.56,2.5],[.638,.338,.61,.025],[.615,.357,.52,1],
    [.646,.364,.76,.0016],[.516,.344,.61,6.3],[.491,.33,.52,9],[.469,.33,.46,2.5],[.607,.307,.48,1],
    [.698,.343,.43,2.5],[.701,.296,.81,1],[.758,.3,.46,2.5],[.791,.336,.61,1],[.801,.291,.61,1],
    [.817,.312,.59,.004],[.634,.272,.46,9],[.554,.289,.41,2.5],[.54,.277,.46,6.3],[.521,.303,.39,1],
    [.505,.289,.41,1.2],[.48,.283,.46,1],[.578,.262,.41,11],[.592,.265,.39,6.3],[.592,.249,.46,18],
    [.608,.245,.39,18],[.824,.23,.57,.25],[.562,.236,.37,18],[.546,.223,.37,18],[.561,.212,.41,40],
    [.6,.213,.52,40],[.632,.215,.56,40],[.653,.203,.41,40],[.704,.194,.59,.4],[.688,.223,.41,18],
    [.724,.207,.52,25],[.806,.2,.61,1],[.813,.184,.57,1.2],[.456,.257,.57,.001],[.461,.244,.39,2.5],
    [.483,.246,.43,1],[.445,.186,.65,1],[.469,.21,.65,100],[.494,.215,.65,40],[.48,.181,.43,18],
    [.518,.191,.5,18],[.535,.178,.37,18],[.653,.176,.41,40],[.682,.176,.43,40],[.696,.167,.33,40],
    [.718,.168,.43,40],[.734,.181,.41,40],[.747,.168,.37,40],[.764,.149,.33,100],[.638,.155,.33,63],
    [.65,.149,.46,63],[.6,.142,.5,63],[.58,.15,.37,63],[.559,.15,.46,63],[.537,.155,.46,63],
    [.488,.157,.46,40],[.711,.129,.3,63],[.704,.111,.33,63],[.724,.117,.33,63],[.603,.111,.44,63],
    [.616,.105,.41,100],[.611,.087,.41,100],[.584,.084,.43,100],[.562,.097,.43,63],[.537,.1,.43,100],
    [.507,.105,.43,63],[.461,.129,.41,40],[.477,.108,.43,100],[.648,.094,.31,63],[.686,.082,.41,160],
    [.657,.058,.33,160],[.687,.05,.31,160],[.627,.046,.31,160],[.567,.059,.33,160],[.536,.056,.37,160],
    [.514,.04,.28,100],[.507,.063,.37,63],[.477,.084,.46,160],[.442,.084,.5,100],[.453,.052,.42,100],
    [.447,.026,.24,100],[.436,.058,.28,100],[.42,.053,.28,100],[.393,.063,.37,160],[.379,.042,.28,63],
    [.396,.034,.2,63]
];

const barTicksA = [1, 10, 100];
const barLabelsA = ['10⁰', '10¹', '10²'];
const barTicksC = [0.1, 1, 10, 100];
const barLabelsC = ['10⁻¹', '10⁰', '10¹', '10²'];
const barTicksD = [0.1, 1, 10, 100, 1000];
const barLabelsD = ['10⁻¹', '10⁰', '10¹', '10²', '10³'];
const barTicksE = [0.01, 1, 100];
const barLabelsE = ['10⁻²', '10⁰', '10²'];
const barTicksF = [0.0001, 0.01, 1, 100, 10000];
const barLabelsF = ['10⁻⁴', '10⁻²', '10⁰', '10²', '10⁴'];

const MAX_RADIUS = 22;
const INK = '#262626';
const Y_AXIS_W = 143;
const X_AXIS_H = 135;
const MARGIN = 60;

const panels = [
    { letter: 'a', points: pointsA, lo: 1, hi: 100, ticks: barTicksA, labels: barLabelsA, left: 153, right: 920, top: 63, bottom: 715, barL: 968, barR: 1000, capX: 574, capY: 932 },
    { letter: 'b', points: pointsB, lo: 1, hi: 100, ticks: barTicksA, labels: barLabelsA, left: 1238, right: 2005, top: 63, bottom: 715, barL: 2053, barR: 2085, capX: 1659, capY: 932 },
    { letter: 'c', points: pointsC, lo: 0.1, hi: 100, ticks: barTicksC, labels: barLabelsC, left: 2320, right: 3070, top: 72, bottom: 709, barL: 3117, barR: 3150, capX: 2744, capY: 925 },
    { letter: 'd', points: pointsD, lo: 0.1, hi: 1000, ticks: barTicksD, labels: barLabelsD, left: 150, right: 900, top: 1025, bottom: 1661, barL: 947, barR: 979, capX: 573, capY: 1876 },
    { letter: 'e', points: fillE.concat(cloudE, sparseE), lo: 0.01, hi: 1000, ticks: barTicksE, labels: barLabelsE, left: 1235, right: 1983, top: 1019, bottom: 1655, barL: 2030, barR: 2063, capX: 1658, capY: 1870 },
    { letter: 'f', points: fillF.concat(cloudF, sparseF), lo: 0.0001, hi: 10000, ticks: barTicksF, labels: barLabelsF, left: 2320, right: 3068, top: 1025, bottom: 1660, barL: 3115, barR: 3148, capX: 2744, capY: 1876 }
];

Chart.defaults.animation = false;
Chart.defaults.devicePixelRatio = 1;
Chart.defaults.color = INK;

const page = document.getElementById('page');

function addCanvas(x, y, w, h) {
    const c = document.createElement('canvas');
    c.width = w;
    c.height = h;
    c.style.left = x + 'px';
    c.style.top = y + 'px';
    c.style.width = w + 'px';
    c.style.height = h + 'px';
    page.appendChild(c);
    return c;
}

// blue at the low end of the bar, red at the high end, linear in the log of the value
function valueColor(v, lo, hi) {
    const t = Math.min(1, Math.max(0, (Math.log10(v) - Math.log10(lo)) / (Math.log10(hi) - Math.log10(lo))));
    return `rgb(${Math.round(255 * t)},0,${Math.round(255 * (1 - t))})`;
}

// tick label overhang moves the scale ends, so walk the padding until they land where they should
function pinScales(chart, padding, measure, want) {
    for (let i = 0; i < 4; i++) {
        const m = measure();
        padding.left += want.left - m.left;
        padding.top += want.top - m.top;
        padding.right += m.right - want.right;
        padding.bottom += m.bottom - want.bottom;
        chart.update();
    }
}

function axisOptions(titleText, fit) {
    return {
        type: 'linear', min: 0, max: 1,
        border: { display: true, color: INK, width: 2 },
        grid: { display: true, drawOnChartArea: false, drawTicks: true, tickLength: -8, tickColor: INK, tickWidth: 2 },
        ticks: {
            stepSize: 0.2, padding: 24, maxRotation: 0, minRotation: 0, autoSkip: false,
            font: { family: '"Liberation Sans", sans-serif', size: 43 },
            callback: v => String(+v.toFixed(1))
        },
        title: {
            display: true, text: titleText, padding: 0, color: INK,
            font: { family: '"Liberation Serif", serif', style: 'italic', size: 60 }
        },
        afterFit: fit
    };
}

function drawScatter(p) {
    const plotW = p.right - p.left;
    const plotH = p.bottom - p.top;
    const w = plotW + Y_AXIS_W + MARGIN * 2;
    const h = plotH + X_AXIS_H + MARGIN * 2;
    const c = addCanvas(p.left - Y_AXIS_W - MARGIN, p.top - MARGIN, w, h);
    const padding = { left: MARGIN, top: MARGIN, right: MARGIN, bottom: MARGIN };
    const chart = new Chart(c, {
        type: 'scatter',
        data: {
            datasets: [{
                data: p.points.map(d => ({ x: d[0], y: d[1], weight: d[2], value: d[3] })),
                pointRadius: ctx => ctx.raw.weight * MAX_RADIUS,
                pointBackgroundColor: ctx => valueColor(ctx.raw.value, p.lo, p.hi),
                pointBorderWidth: 0
            }]
        },
        options: {
            responsive: false,
            layout: { autoPadding: false, padding: padding },
            plugins: { legend: { display: false }, tooltip: { enabled: false } },
            scales: {
                x: axisOptions('x', s => { s.height = X_AXIS_H; }),
                y: axisOptions('y', s => { s.width = Y_AXIS_W; })
            }
        }
    });
    pinScales(chart, padding, () => ({
        left: chart.scales.x.getPixelForValue(0),
        right: chart.scales.x.getPixelForValue(1),
        top: chart.scales.y.getPixelForValue(1),
        bottom: chart.scales.y.getPixelForValue(0)
    }), { left: Y_AXIS_W + MARGIN, top: MARGIN, right: Y_AXIS_W + MARGIN + plotW, bottom: MARGIN + plotH });
}

function drawColorBar(p) {
    const axisW = 150;
    const barW = p.barR - p.barL;
    const plotH = p.bottom - p.top;
    const c = addCanvas(p.barL, p.top - MARGIN, barW + axisW, plotH + MARGIN * 2);
    const padding = { left: 0, top: MARGIN, right: 0, bottom: MARGIN };
    const chart = new Chart(c, {
        type: 'bar',
        data: {
            labels: [''],
            datasets: [{
                data: [[p.lo, p.hi]],
                barPercentage: 1,
                categoryPercentage: 1,
                borderColor: INK,
                borderWidth: 2,
                borderSkipped: false,
                backgroundColor: ctx => {
                    const a = ctx.chart.chartArea;
                    if (!a) return 'rgb(128,0,128)';
                    const g = ctx.chart.ctx.createLinearGradient(0, a.bottom, 0, a.top);
                    g.addColorStop(0, 'rgb(0,0,255)');
                    g.addColorStop(1, 'rgb(255,0,0)');
                    return g;
                }
            }]
        },
        options: {
            responsive: false,
            layout: { autoPadding: false, padding: padding },
            plugins: { legend: { display: false }, tooltip: { enabled: false } },
            scales: {
                x: { display: false },
                y: {
                    type: 'logarithmic', position: 'right', min: p.lo, max: p.hi,
                    border: { display: false },
                    grid: { display: true, z: 1, drawOnChartArea: false, drawTicks: true, tickLength: -6, tickColor: INK, tickWidth: 1.5 },
                    ticks: {
                        autoSkip: false, padding: 22, maxRotation: 0, minRotation: 0,
                        font: { family: '"Liberation Serif", serif', size: 50 },
                        callback: v => {
                            const i = p.ticks.findIndex(t => Math.abs(Math.log10(t) - Math.log10(v)) < 1e-6);
                            return i < 0 ? '' : p.labels[i];
                        }
                    },
                    afterFit: s => { s.width = axisW; }
                }
            }
        }
    });
    pinScales(chart, padding, () => ({
        left: chart.chartArea.left,
        right: chart.chartArea.right,
        top: chart.scales.y.getPixelForValue(p.hi),
        bottom: chart.scales.y.getPixelForValue(p.lo)
    }), { left: 0, top: MARGIN, right: barW, bottom: MARGIN + plotH });
}

function drawCaption(p) {
    const d = document.createElement('div');
    d.className = 'caption';
    d.style.left = p.capX + 'px';
    d.style.top = p.capY + 'px';
    d.innerHTML = `(<b>${p.letter}</b>)`;
    page.appendChild(d);
}

panels.forEach(p => {
    drawScatter(p);
    drawColorBar(p);
    drawCaption(p);
});
</script>
</body>
</html>
